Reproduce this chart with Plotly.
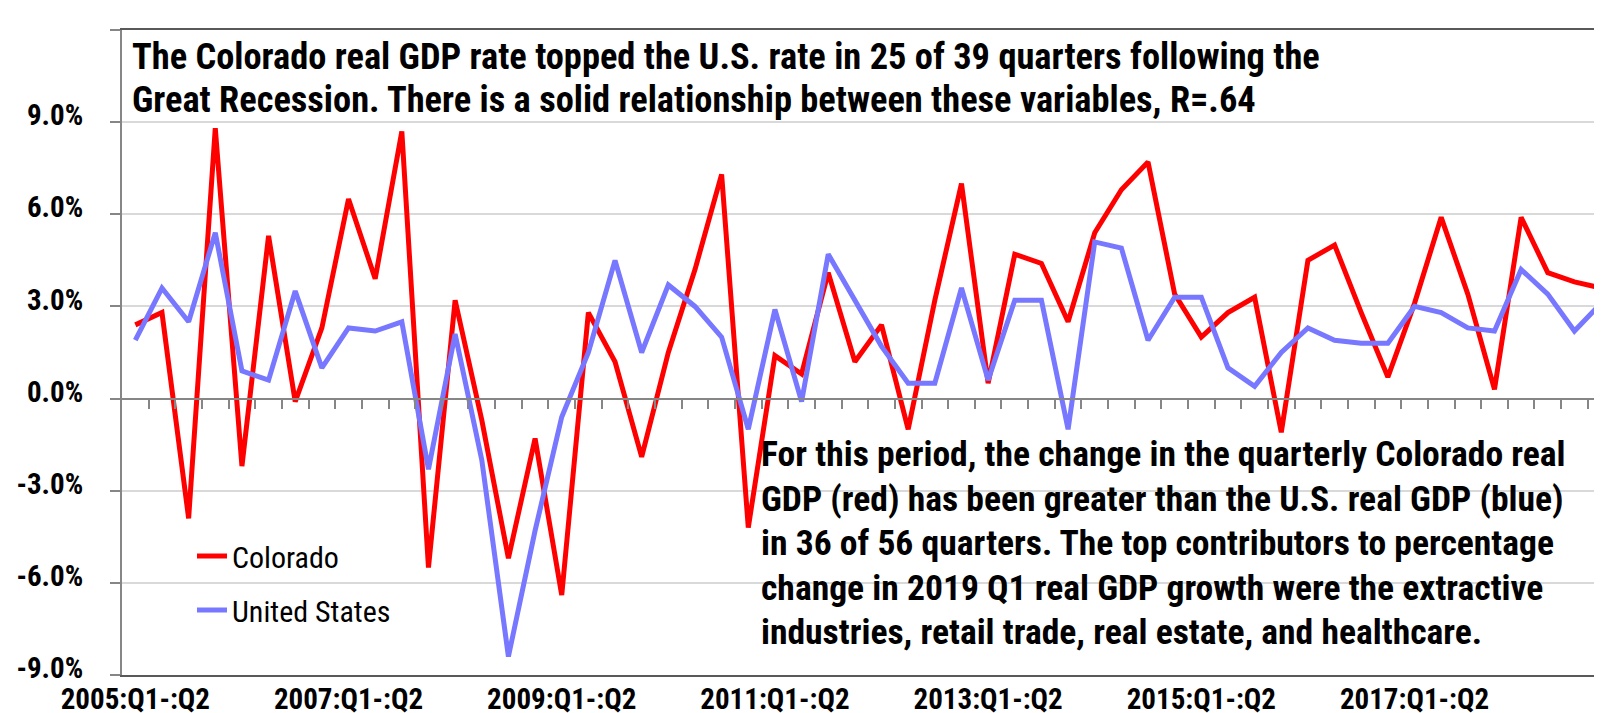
import plotly.graph_objects as go

# quarter-over-quarter labels, 2005:Q1-:Q2 ... 2018:Q4-2019:Q1
quarters = []
for q in range(56):
    year = 2005 + q // 4
    n = q % 4 + 1
    if n == 4:
        quarters.append(f"{year}:Q4-{year + 1}:Q1")
    else:
        quarters.append(f"{year}:Q{n}-:Q{n + 1}")

colorado = [2.4, 2.8, -3.9, 8.8, -2.2, 5.3, -0.1, 2.3, 6.5, 3.9, 8.7, -5.5, 3.2, -0.7,
            -5.2, -1.3, -6.4, 2.8, 1.2, -1.9, 1.5, 4.2, 7.3, -4.2, 1.4, 0.8, 4.1, 1.2,
            2.4, -1.0, 3.2, 7.0, 0.5, 4.7, 4.4, 2.5, 5.4, 6.8, 7.7, 3.4, 2.0, 2.8,
            3.3, -1.1, 4.5, 5.0, 2.8, 0.7, 3.1, 5.9, 3.4, 0.3, 5.9, 4.1, 3.8, 3.6]
united_states = [1.9, 3.6, 2.5, 5.4, 0.9, 0.6, 3.5, 1.0, 2.3, 2.2, 2.5, -2.3, 2.1, -2.0,
                 -8.4, -4.3, -0.6, 1.5, 4.5, 1.5, 3.7, 3.0, 2.0, -1.0, 2.9, -0.1, 4.7, 3.2,
                 1.7, 0.5, 0.5, 3.6, 0.6, 3.2, 3.2, -1.0, 5.1, 4.9, 1.9, 3.3, 3.3, 1.0,
                 0.4, 1.5, 2.3, 1.9, 1.8, 1.8, 3.0, 2.8, 2.3, 2.2, 4.2, 3.4, 2.2, 3.1]

x_tick_labels = quarters[::8]
y_ticks = [-9, -6, -3, 0, 3, 6, 9, 12]
y_tick_labels = [f"{v:.1f}%" for v in y_ticks]

note_top = ["The Colorado real GDP rate topped the U.S. rate in 25 of 39 quarters following the",
            "Great Recession. There is a solid relationship between these variables, R=.64"]
note_bottom = ["For this period, the change in the quarterly Colorado real",
               "GDP (red) has been greater than the U.S. real GDP (blue)",
               "in 36 of 56 quarters. The top contributors to percentage",
               "change in 2019 Q1 real GDP growth were the extractive",
               "industries, retail trade, real estate, and healthcare."]

FONT = "Roboto Condensed, Open Sans Condensed, Liberation Sans, sans-serif"

# plot area in pixels: left 114, top 22, bottom 667, cropped at the right edge
PX_L, PX_T, PX_B, W, H = 114, 22, 667, 1602, 713
def px_x(x):
    return (x - PX_L) / (W - PX_L)
def px_y(y):
    return 1 - (y - PX_T) / (PX_B - PX_T)

fig = go.Figure()
fig.add_trace(go.Scatter(x=quarters, y=colorado, mode="lines", name="Colorado",
                         legendgroup="co", line=dict(color="#FF0000", width=5)))
fig.add_trace(go.Scatter(x=quarters, y=united_states, mode="lines", name="United States",
                         legendgroup="us", line=dict(color="#7777FF", width=5)))
# empty trace so the zero-line axis carrying the category ticks gets drawn
fig.add_trace(go.Scatter(x=[], y=[], xaxis="x2", showlegend=False, hoverinfo="skip"))

n = len(quarters)
x_right = -0.5 + (W - PX_L) / 26.65

annotations = []
for i, line in enumerate(note_top):
    annotations.append(dict(text=line, xref="paper", yref="paper", x=px_x(122), y=px_y(48 + 43 * i),
                            xanchor="left", yanchor="middle", showarrow=False,
                            font=dict(size=36.4, weight="bold", family=FONT)))
for i, line in enumerate(note_bottom):
    annotations.append(dict(text=line, xref="paper", yref="paper", x=px_x(751), y=px_y(446 + 44.6 * i),
                            xanchor="left", yanchor="middle", showarrow=False,
                            font=dict(size=35.6, weight="bold", family=FONT)))

fig.update_layout(
    width=W, height=H,
    margin=dict(l=PX_L, r=0, t=PX_T, b=H - PX_B),
    paper_bgcolor="white", plot_bgcolor="white",
    font=dict(family=FONT, color="black"),
    xaxis=dict(
        type="category", range=[-0.5, x_right], tickvals=x_tick_labels, ticktext=x_tick_labels,
        showgrid=False, zeroline=False, ticks="", automargin=False,
        showline=True, mirror=True, linecolor="#595959", linewidth=2,
        tickfont=dict(size=29, weight="bold"), ticklabelstandoff=-3,
    ),
    xaxis2=dict(
        overlaying="x", anchor="free", position=9 / 21, range=[-0.5, x_right],
        tickvals=[k + 0.5 for k in range(n - 1)], showticklabels=False,
        ticks="outside", ticklen=9, tickwidth=1.5, tickcolor="#868686", automargin=False,
        showline=True, linecolor="#868686", linewidth=2, showgrid=False, zeroline=False,
    ),
    yaxis=dict(
        range=[-9, 12], tickvals=y_ticks, ticktext=y_tick_labels,
        showgrid=True, gridcolor="#d9d9d9", gridwidth=2, zeroline=False, automargin=False,
        showline=True, linecolor="#868686", linewidth=2,
        ticks="outside", ticklen=10, tickcolor="#868686", tickwidth=1.5,
        tickfont=dict(size=29, weight="bold"), ticklabelstandoff=21, ticklabelshift=-7,
    ),
    legend=dict(
        x=px_x(184), xanchor="left", y=px_y(575), yanchor="middle",
        font=dict(size=30, family=FONT), bgcolor="rgba(0,0,0,0)",
        traceorder="grouped", tracegroupgap=12,
    ),
    annotations=annotations,
)

fig.write_html("out.html")
